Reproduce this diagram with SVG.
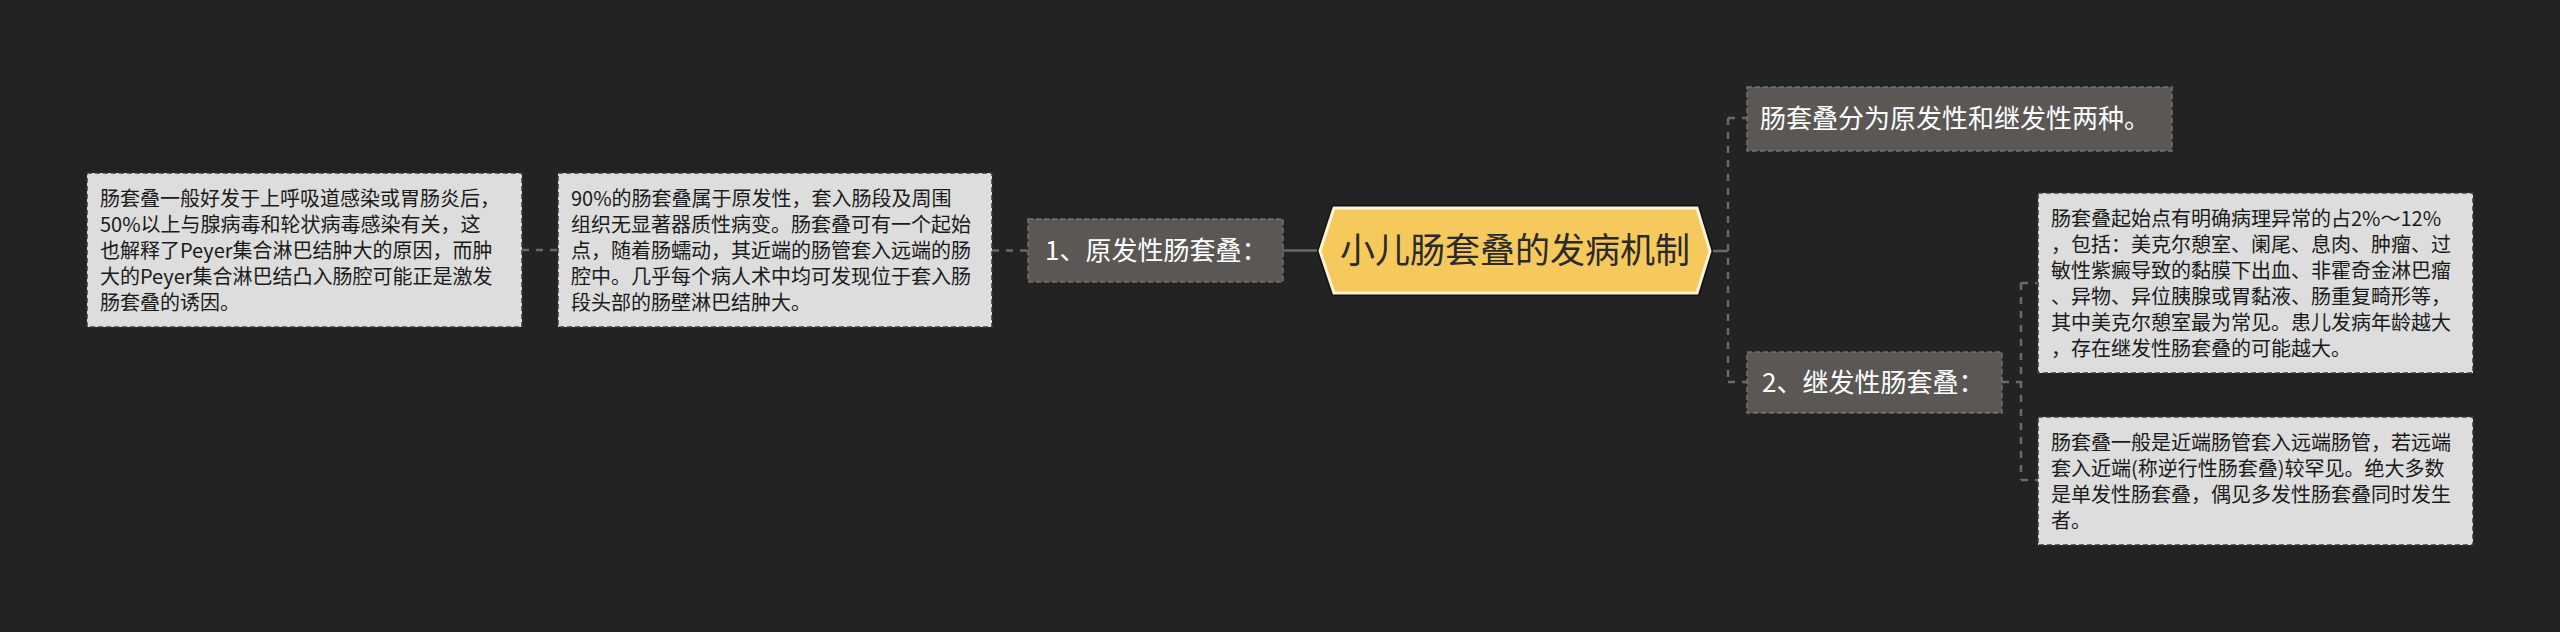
<svg xmlns="http://www.w3.org/2000/svg" width="2560" height="632" viewBox="0 0 2560 632">
<style>
.bg{fill:#232323}
.leaf{fill:#dddddd;stroke:#3a3a3a;stroke-width:1.5;stroke-dasharray:5 3}
.leaf-t{font-family:"Noto Sans CJK SC","Noto Sans",sans-serif;font-size:20px;fill:#1a1a1a}
.sub{fill:#5a5755;stroke:#747170;stroke-width:1.5;stroke-dasharray:5 3}
.sub-t{font-family:"Noto Sans CJK SC","Noto Sans",sans-serif;font-size:26px;fill:#ffffff}
.root{fill:#f6c95c;stroke:#fbf3d6;stroke-width:3}
.root-t{font-family:"Noto Sans CJK SC","Noto Sans",sans-serif;font-size:35px;fill:#2a2a2a}
.c{fill:none;stroke:#6a6a6a;stroke-width:2.5}
.cd{fill:none;stroke:#6a6a6a;stroke-width:2.5;stroke-dasharray:7 7}
</style>
<rect class="bg" x="0" y="0" width="2560" height="632"/>
<g id="connectors">
<line class="cd" x1="522" y1="250" x2="558" y2="250"/>
<line class="cd" x1="992" y1="250.5" x2="1028" y2="250.5"/>
<line class="c" x1="1283" y1="250.5" x2="1320" y2="250.5"/>
<line class="c" x1="1710" y1="251" x2="1728" y2="251"/>
<line class="cd" x1="1728" y1="118" x2="1728" y2="382"/>
<line class="cd" x1="1728" y1="118" x2="1747" y2="118"/>
<line class="cd" x1="1728" y1="382" x2="1747" y2="382"/>
<line class="cd" x1="2002" y1="382" x2="2021" y2="382"/>
<line class="cd" x1="2021" y1="283" x2="2021" y2="480"/>
<line class="cd" x1="2021" y1="283" x2="2038" y2="283"/>
<line class="cd" x1="2021" y1="480" x2="2038" y2="480"/>
</g>
<g id="root">
<polygon points="1320,251 1334,208 1697,208 1710,251 1697,293 1334,293" fill="none" stroke="#111" stroke-width="6"/>
<polygon class="root" points="1320,251 1334,208 1697,208 1710,251 1697,293 1334,293"/>
<text class="root-t" x="1515" y="263" text-anchor="middle">小儿肠套叠的发病机制</text>
</g>
<g id="node-primary">
<rect class="sub" x="1028" y="219" width="255" height="63"/>
<text class="sub-t" x="1045" y="259.5">1、原发性肠套叠：</text>
</g>
<g id="node-primary-detail">
<rect class="leaf" x="558" y="173" width="434" height="154"/>
<text class="leaf-t" x="571" y="206">90%的肠套叠属于原发性，套入肠段及周围</text>
<text class="leaf-t" x="571" y="232">组织无显著器质性病变。肠套叠可有一个起始</text>
<text class="leaf-t" x="571" y="258">点，随着肠蠕动，其近端的肠管套入远端的肠</text>
<text class="leaf-t" x="571" y="284">腔中。几乎每个病人术中均可发现位于套入肠</text>
<text class="leaf-t" x="571" y="310">段头部的肠壁淋巴结肿大。</text>
</g>
<g id="node-primary-cause">
<rect class="leaf" x="87" y="173" width="435" height="154"/>
<text class="leaf-t" x="100" y="206">肠套叠一般好发于上呼吸道感染或胃肠炎后，</text>
<text class="leaf-t" x="100" y="232">50%以上与腺病毒和轮状病毒感染有关，这</text>
<text class="leaf-t" x="100" y="258">也解释了Peyer集合淋巴结肿大的原因，而肿</text>
<text class="leaf-t" x="100" y="284">大的Peyer集合淋巴结凸入肠腔可能正是激发</text>
<text class="leaf-t" x="100" y="310">肠套叠的诱因。</text>
</g>
<g id="node-types">
<rect class="sub" x="1747" y="87" width="425" height="64"/>
<text class="sub-t" x="1760" y="128">肠套叠分为原发性和继发性两种。</text>
</g>
<g id="node-secondary">
<rect class="sub" x="1747" y="352" width="255" height="61"/>
<text class="sub-t" x="1762" y="391.5">2、继发性肠套叠：</text>
</g>
<g id="node-secondary-detail1">
<rect class="leaf" x="2038" y="193" width="435" height="180"/>
<text class="leaf-t" x="2051" y="226">肠套叠起始点有明确病理异常的占2%～12%</text>
<text class="leaf-t" x="2051" y="252">，包括：美克尔憩室、阑尾、息肉、肿瘤、过</text>
<text class="leaf-t" x="2051" y="278">敏性紫癜导致的黏膜下出血、非霍奇金淋巴瘤</text>
<text class="leaf-t" x="2051" y="304">、异物、异位胰腺或胃黏液、肠重复畸形等，</text>
<text class="leaf-t" x="2051" y="330">其中美克尔憩室最为常见。患儿发病年龄越大</text>
<text class="leaf-t" x="2051" y="356">，存在继发性肠套叠的可能越大。</text>
</g>
<g id="node-secondary-detail2">
<rect class="leaf" x="2038" y="417" width="435" height="128"/>
<text class="leaf-t" x="2051" y="450">肠套叠一般是近端肠管套入远端肠管，若远端</text>
<text class="leaf-t" x="2051" y="476">套入近端(称逆行性肠套叠)较罕见。绝大多数</text>
<text class="leaf-t" x="2051" y="502">是单发性肠套叠，偶见多发性肠套叠同时发生</text>
<text class="leaf-t" x="2051" y="528">者。</text>
</g>
</svg>
